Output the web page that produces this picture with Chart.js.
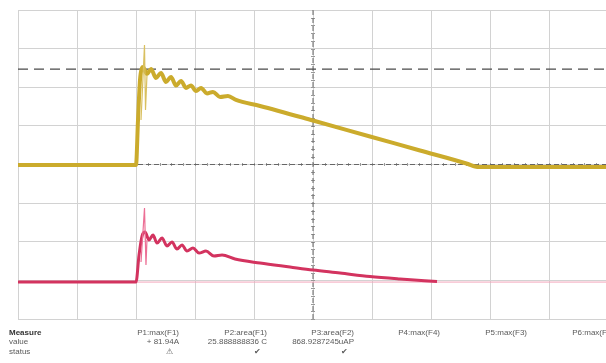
<!DOCTYPE html>
<html>
<head>
<meta charset="utf-8">
<script src="https://cdn.jsdelivr.net/npm/chart.js@4"></script>
<style>
  body { margin: 0; background: #fff; }
  #wrap { position: relative; width: 606px; height: 363px; overflow: hidden; }
  canvas { position: absolute; left: 0; top: 0; }
  .t { position: absolute; font-family: "Liberation Sans", Arial, sans-serif; font-size: 8px; color: #5a5a5a; white-space: nowrap; }
  .r { text-align: right; width: 90px; }
  .b { font-weight: bold; color: #333; }
</style>
</head>
<body>
<div id="wrap">
  <canvas id="myChart" width="606" height="363"></canvas>
</div>
<script>
// divisiones de la pantalla (10 horizontales, 8 verticales)
const xMax = 9.966;
const cursorY = 2.47;
const pinkRef = -3.044;

// canal 1 (amarillo)
const yellowX = [0, 2.0, 2.034, 2.068, 2.102, 2.119, 2.186, 2.254, 2.339, 2.424, 2.508, 2.593, 2.678, 2.763, 2.847, 2.932, 3.017, 3.102, 3.203, 3.305, 3.424, 3.559, 3.695, 4.102, 5.0, 5.966, 6.814, 7.627, 7.746, 7.831, 9.966];
const yellowY = [-0.013, -0.013, 1.153, 2.189, 2.5, 2.526, 2.345, 2.474, 2.241, 2.370, 2.137, 2.267, 2.047, 2.163, 1.982, 2.047, 1.904, 1.982, 1.839, 1.878, 1.749, 1.775, 1.671, 1.516, 1.140, 0.725, 0.363, 0.013, -0.052, -0.065, -0.065];
const yellowSpikeX = [2.085, 2.144, 2.161, 2.186];
const yellowSpikeY = [1.153, 3.096, 1.412, 2.31];

// canal 2 (rosa)
const pinkX = [0, 2.0, 2.051, 2.102, 2.153, 2.22, 2.288, 2.356, 2.441, 2.525, 2.610, 2.695, 2.780, 2.864, 2.966, 3.068, 3.186, 3.322, 3.458, 3.678, 4.102, 4.610, 5.0, 5.458, 5.966, 6.475, 7.102];
const pinkY = [-3.044, -3.044, -2.345, -1.852, -1.749, -1.956, -1.826, -2.034, -1.904, -2.111, -2.008, -2.189, -2.085, -2.241, -2.163, -2.293, -2.241, -2.371, -2.345, -2.448, -2.552, -2.655, -2.733, -2.811, -2.902, -2.966, -3.031];
const pinkSpikeX = [2.085, 2.144, 2.169, 2.186];
const pinkSpikeY = [-2.526, -1.127, -2.604, -1.956];

// tabla de mediciones
const measureNames = ['P1:max(F1)', 'P2:area(F1)', 'P3:area(F2)', 'P4:max(F4)', 'P5:max(F3)', 'P6:max(F4)'];
const measureValues = ['+ 81.94A', '25.888888836 C', '868.9287245uAP', '', '', ''];
const measureStatus = ['\u26A0', '\u2714', '\u2714', '', '', ''];

const pts = (xs, ys) => xs.map((x, i) => ({ x: x, y: ys[i] }));

// marcas pequeñas sobre los ejes centrales
const crossTicks = {
  id: 'crossTicks',
  beforeDatasetsDraw(chart) {
    const { ctx, scales: { x, y } } = chart;
    ctx.save();
    ctx.strokeStyle = '#999';
    ctx.lineWidth = 1;
    const cx = x.getPixelForValue(5), cy = y.getPixelForValue(0);
    ctx.beginPath();
    for (let v = 0; v <= 10; v += 0.2) {
      const px = Math.round(x.getPixelForValue(v)) + 0.5;
      ctx.moveTo(px, cy - 1.5); ctx.lineTo(px, cy + 1.5);
    }
    for (let v = -4; v <= 4; v += 0.2) {
      const py = Math.round(y.getPixelForValue(v)) + 0.5;
      ctx.moveTo(cx - 2, py); ctx.lineTo(cx + 2, py);
    }
    ctx.stroke();
    ctx.restore();
  }
};

const ctx = document.getElementById('myChart');
new Chart(ctx, {
  type: 'line',
  data: {
    datasets: [
      { data: pts(yellowSpikeX, yellowSpikeY), borderColor: '#d9c060', borderWidth: 1.2, order: 0 },
      { data: pts(yellowX, yellowY), borderColor: '#cbab2c', borderWidth: 4, cubicInterpolationMode: 'monotone', order: 1 },
      { data: pts(pinkSpikeX, pinkSpikeY), borderColor: '#ec6f95', borderWidth: 1.2, order: 2 },
      { data: pts(pinkX, pinkY), borderColor: '#d3335f', borderWidth: 3, cubicInterpolationMode: 'monotone', order: 3 },
      { data: [{ x: 0, y: pinkRef }, { x: xMax, y: pinkRef }], borderColor: '#f2a5bb', borderWidth: 1, order: 4 },
      { data: [{ x: 0, y: cursorY }, { x: xMax, y: cursorY }], borderColor: '#4a4a4a', borderWidth: 1.2, borderDash: [10, 6], order: 5 },
      { data: [{ x: 0, y: 0 }, { x: xMax, y: 0 }], borderColor: '#666', borderWidth: 1, borderDash: [5, 3], order: 6 },
      { data: [{ x: 5, y: -4 }, { x: 5, y: 4 }], borderColor: '#666', borderWidth: 1, borderDash: [5, 3], order: 7 }
    ]
  },
  options: {
    responsive: false,
    animation: false,
    layout: { padding: { left: 18, top: 10, right: 0, bottom: 44 } },
    elements: { point: { radius: 0 }, line: { tension: 0 } },
    scales: {
      x: {
        type: 'linear', min: 0, max: xMax,
        ticks: { display: false, stepSize: 1, includeBounds: false },
        grid: { color: '#d2d2d2', drawTicks: false },
        border: { display: false }
      },
      y: {
        type: 'linear', min: -4, max: 4,
        ticks: { display: false, stepSize: 1 },
        grid: { color: '#d2d2d2', drawTicks: false },
        border: { display: false }
      }
    },
    plugins: { legend: { display: false }, tooltip: { enabled: false } }
  },
  plugins: [crossTicks]
});

// texto de la tabla de mediciones
const wrap = document.getElementById('wrap');
function addText(txt, left, top, cls) {
  const d = document.createElement('div');
  d.className = 't ' + (cls || '');
  d.textContent = txt;
  d.style.left = left + 'px';
  d.style.top = top + 'px';
  wrap.appendChild(d);
}
addText('Measure', 9, 328, 'b');
addText('value', 9, 337);
addText('status', 9, 347);
const colRight = [179, 267, 354, 440, 527, 614];
measureNames.forEach((n, i) => {
  addText(n, colRight[i] - 90, 328, 'r');
  if (measureValues[i]) addText(measureValues[i], colRight[i] - 90, 337, 'r');
  if (measureStatus[i]) addText(measureStatus[i], colRight[i] - 96, 347, 'r');
});
</script>
</body>
</html>
